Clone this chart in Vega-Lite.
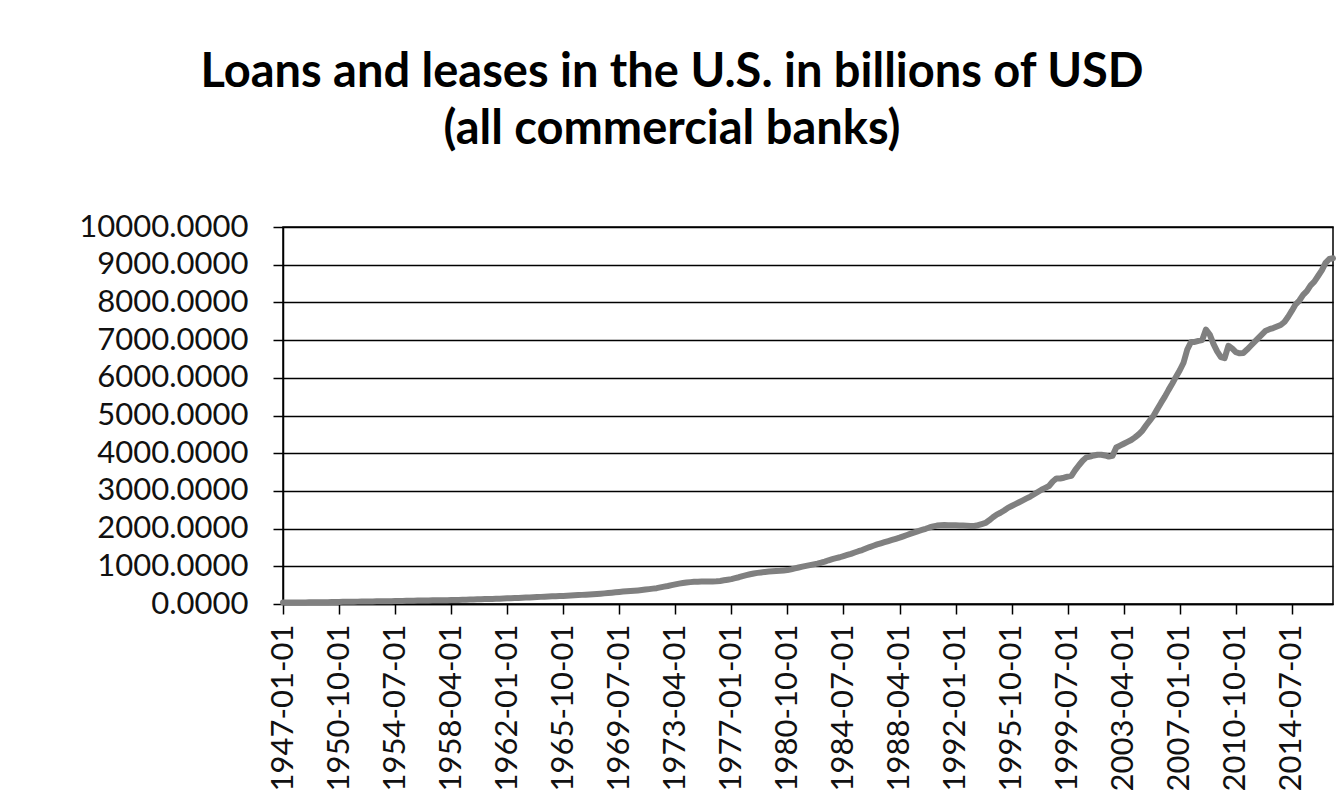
{
  "$schema": "https://vega.github.io/schema/vega-lite/v6.json",
  "width": 1050,
  "height": 377,
  "autosize": {"type": "none"},
  "padding": {"left": 283, "top": 227, "right": 5, "bottom": 199},
  "background": "white",
  "title": {
    "text": ["Loans and leases in the U.S. in billions of USD", "(all commercial banks)"],
    "font": "Lato",
    "fontSize": 47,
    "fontWeight": "bold",
    "color": "#000000",
    "anchor": "middle",
    "frame": "group",
    "dx": -136,
    "lineHeight": 57,
    "offset": 57
  },
  "config": {
    "view": {"stroke": "#000000", "strokeWidth": 1.5},
    "axis": {
      "labelFont": "Lato",
      "labelFontSize": 31,
      "labelColor": "#111111",
      "domainColor": "#000000",
      "domainWidth": 1.5,
      "tickColor": "#000000",
      "tickWidth": 1.5,
      "tickSize": 10,
      "title": null
    }
  },
  "data": {"values": [
{"d":"1947-01-01","v":38},{"d":"1947-04-01","v":39},{"d":"1947-07-01","v":40},{"d":"1947-10-01","v":41},
{"d":"1948-01-01","v":42},{"d":"1948-04-01","v":43},{"d":"1948-07-01","v":43},{"d":"1948-10-01","v":44},
{"d":"1949-01-01","v":44},{"d":"1949-04-01","v":44},{"d":"1949-07-01","v":45},{"d":"1949-10-01","v":46},
{"d":"1950-01-01","v":48},{"d":"1950-04-01","v":50},{"d":"1950-07-01","v":53},{"d":"1950-10-01","v":55},
{"d":"1951-01-01","v":57},{"d":"1951-04-01","v":59},{"d":"1951-07-01","v":61},{"d":"1951-10-01","v":62},
{"d":"1952-01-01","v":63},{"d":"1952-04-01","v":65},{"d":"1952-07-01","v":67},{"d":"1952-10-01","v":68},
{"d":"1953-01-01","v":69},{"d":"1953-04-01","v":70},{"d":"1953-07-01","v":71},{"d":"1953-10-01","v":72},
{"d":"1954-01-01","v":73},{"d":"1954-04-01","v":75},{"d":"1954-07-01","v":77},{"d":"1954-10-01","v":79},
{"d":"1955-01-01","v":81},{"d":"1955-04-01","v":83},{"d":"1955-07-01","v":86},{"d":"1955-10-01","v":88},
{"d":"1956-01-01","v":90},{"d":"1956-04-01","v":92},{"d":"1956-07-01","v":94},{"d":"1956-10-01","v":96},
{"d":"1957-01-01","v":97},{"d":"1957-04-01","v":99},{"d":"1957-07-01","v":100},{"d":"1957-10-01","v":101},
{"d":"1958-01-01","v":102},{"d":"1958-04-01","v":104},{"d":"1958-07-01","v":106},{"d":"1958-10-01","v":109},
{"d":"1959-01-01","v":112},{"d":"1959-04-01","v":115},{"d":"1959-07-01","v":118},{"d":"1959-10-01","v":121},
{"d":"1960-01-01","v":124},{"d":"1960-04-01","v":127},{"d":"1960-07-01","v":130},{"d":"1960-10-01","v":132},
{"d":"1961-01-01","v":134},{"d":"1961-04-01","v":137},{"d":"1961-07-01","v":141},{"d":"1961-10-01","v":145},
{"d":"1962-01-01","v":150},{"d":"1962-04-01","v":154},{"d":"1962-07-01","v":158},{"d":"1962-10-01","v":162},
{"d":"1963-01-01","v":166},{"d":"1963-04-01","v":170},{"d":"1963-07-01","v":175},{"d":"1963-10-01","v":180},
{"d":"1964-01-01","v":184},{"d":"1964-04-01","v":189},{"d":"1964-07-01","v":194},{"d":"1964-10-01","v":199},
{"d":"1965-01-01","v":203},{"d":"1965-04-01","v":207},{"d":"1965-07-01","v":211},{"d":"1965-10-01","v":215},
{"d":"1966-01-01","v":220},{"d":"1966-04-01","v":226},{"d":"1966-07-01","v":232},{"d":"1966-10-01","v":237},
{"d":"1967-01-01","v":242},{"d":"1967-04-01","v":248},{"d":"1967-07-01","v":254},{"d":"1967-10-01","v":260},
{"d":"1968-01-01","v":267},{"d":"1968-04-01","v":274},{"d":"1968-07-01","v":282},{"d":"1968-10-01","v":290},
{"d":"1969-01-01","v":300},{"d":"1969-04-01","v":310},{"d":"1969-07-01","v":320},{"d":"1969-10-01","v":330},
{"d":"1970-01-01","v":338},{"d":"1970-04-01","v":345},{"d":"1970-07-01","v":352},{"d":"1970-10-01","v":360},
{"d":"1971-01-01","v":370},{"d":"1971-04-01","v":382},{"d":"1971-07-01","v":395},{"d":"1971-10-01","v":408},
{"d":"1972-01-01","v":420},{"d":"1972-04-01","v":440},{"d":"1972-07-01","v":460},{"d":"1972-10-01","v":478},
{"d":"1973-01-01","v":500},{"d":"1973-04-01","v":520},{"d":"1973-07-01","v":540},{"d":"1973-10-01","v":555},
{"d":"1974-01-01","v":568},{"d":"1974-04-01","v":580},{"d":"1974-07-01","v":588},{"d":"1974-10-01","v":592},
{"d":"1975-01-01","v":594},{"d":"1975-04-01","v":595},{"d":"1975-07-01","v":597},{"d":"1975-10-01","v":600},
{"d":"1976-01-01","v":602},{"d":"1976-04-01","v":612},{"d":"1976-07-01","v":628},{"d":"1976-10-01","v":645},
{"d":"1977-01-01","v":660},{"d":"1977-04-01","v":685},{"d":"1977-07-01","v":710},{"d":"1977-10-01","v":740},
{"d":"1978-01-01","v":765},{"d":"1978-04-01","v":790},{"d":"1978-07-01","v":810},{"d":"1978-10-01","v":825},
{"d":"1979-01-01","v":838},{"d":"1979-04-01","v":850},{"d":"1979-07-01","v":860},{"d":"1979-10-01","v":868},
{"d":"1980-01-01","v":875},{"d":"1980-04-01","v":880},{"d":"1980-07-01","v":890},{"d":"1980-10-01","v":900},
{"d":"1981-01-01","v":920},{"d":"1981-04-01","v":945},{"d":"1981-07-01","v":968},{"d":"1981-10-01","v":990},
{"d":"1982-01-01","v":1010},{"d":"1982-04-01","v":1030},{"d":"1982-07-01","v":1050},{"d":"1982-10-01","v":1070},
{"d":"1983-01-01","v":1095},{"d":"1983-04-01","v":1125},{"d":"1983-07-01","v":1160},{"d":"1983-10-01","v":1190},
{"d":"1984-01-01","v":1215},{"d":"1984-04-01","v":1240},{"d":"1984-07-01","v":1270},{"d":"1984-10-01","v":1300},
{"d":"1985-01-01","v":1330},{"d":"1985-04-01","v":1365},{"d":"1985-07-01","v":1400},{"d":"1985-10-01","v":1430},
{"d":"1986-01-01","v":1470},{"d":"1986-04-01","v":1510},{"d":"1986-07-01","v":1545},{"d":"1986-10-01","v":1580},
{"d":"1987-01-01","v":1610},{"d":"1987-04-01","v":1640},{"d":"1987-07-01","v":1670},{"d":"1987-10-01","v":1700},
{"d":"1988-01-01","v":1730},{"d":"1988-04-01","v":1760},{"d":"1988-07-01","v":1795},{"d":"1988-10-01","v":1830},
{"d":"1989-01-01","v":1865},{"d":"1989-04-01","v":1900},{"d":"1989-07-01","v":1935},{"d":"1989-10-01","v":1965},
{"d":"1990-01-01","v":1995},{"d":"1990-04-01","v":2030},{"d":"1990-07-01","v":2060},{"d":"1990-10-01","v":2080},
{"d":"1991-01-01","v":2090},{"d":"1991-04-01","v":2095},{"d":"1991-07-01","v":2090},{"d":"1991-10-01","v":2090},
{"d":"1992-01-01","v":2090},{"d":"1992-04-01","v":2085},{"d":"1992-07-01","v":2080},{"d":"1992-10-01","v":2075},
{"d":"1993-01-01","v":2070},{"d":"1993-04-01","v":2070},{"d":"1993-07-01","v":2090},{"d":"1993-10-01","v":2120},
{"d":"1994-01-01","v":2150},{"d":"1994-04-01","v":2220},{"d":"1994-07-01","v":2300},{"d":"1994-10-01","v":2370},
{"d":"1995-01-01","v":2420},{"d":"1995-04-01","v":2480},{"d":"1995-07-01","v":2550},{"d":"1995-10-01","v":2600},
{"d":"1996-01-01","v":2650},{"d":"1996-04-01","v":2700},{"d":"1996-07-01","v":2750},{"d":"1996-10-01","v":2800},
{"d":"1997-01-01","v":2850},{"d":"1997-04-01","v":2910},{"d":"1997-07-01","v":2970},{"d":"1997-10-01","v":3030},
{"d":"1998-01-01","v":3080},{"d":"1998-04-01","v":3130},{"d":"1998-07-01","v":3250},{"d":"1998-10-01","v":3330},
{"d":"1999-01-01","v":3330},{"d":"1999-04-01","v":3350},{"d":"1999-07-01","v":3380},{"d":"1999-10-01","v":3400},
{"d":"2000-01-01","v":3550},{"d":"2000-04-01","v":3680},{"d":"2000-07-01","v":3800},{"d":"2000-10-01","v":3890},
{"d":"2001-01-01","v":3910},{"d":"2001-04-01","v":3940},{"d":"2001-07-01","v":3960},{"d":"2001-10-01","v":3960},
{"d":"2002-01-01","v":3940},{"d":"2002-04-01","v":3910},{"d":"2002-07-01","v":3930},{"d":"2002-10-01","v":4150},
{"d":"2003-01-01","v":4200},{"d":"2003-04-01","v":4250},{"d":"2003-07-01","v":4300},{"d":"2003-10-01","v":4350},
{"d":"2004-01-01","v":4420},{"d":"2004-04-01","v":4500},{"d":"2004-07-01","v":4600},{"d":"2004-10-01","v":4740},
{"d":"2005-01-01","v":4870},{"d":"2005-04-01","v":5000},{"d":"2005-07-01","v":5170},{"d":"2005-10-01","v":5340},
{"d":"2006-01-01","v":5500},{"d":"2006-04-01","v":5680},{"d":"2006-07-01","v":5850},{"d":"2006-10-01","v":6030},
{"d":"2007-01-01","v":6200},{"d":"2007-04-01","v":6400},{"d":"2007-07-01","v":6750},{"d":"2007-10-01","v":6950},
{"d":"2008-01-01","v":6950},{"d":"2008-04-01","v":6980},{"d":"2008-07-01","v":7000},{"d":"2008-10-01","v":7280},
{"d":"2009-01-01","v":7150},{"d":"2009-04-01","v":6900},{"d":"2009-07-01","v":6700},{"d":"2009-10-01","v":6550},
{"d":"2010-01-01","v":6520},{"d":"2010-04-01","v":6850},{"d":"2010-07-01","v":6780},{"d":"2010-10-01","v":6680},
{"d":"2011-01-01","v":6650},{"d":"2011-04-01","v":6660},{"d":"2011-07-01","v":6750},{"d":"2011-10-01","v":6850},
{"d":"2012-01-01","v":6950},{"d":"2012-04-01","v":7050},{"d":"2012-07-01","v":7150},{"d":"2012-10-01","v":7250},
{"d":"2013-01-01","v":7290},{"d":"2013-04-01","v":7320},{"d":"2013-07-01","v":7360},{"d":"2013-10-01","v":7400},
{"d":"2014-01-01","v":7480},{"d":"2014-04-01","v":7620},{"d":"2014-07-01","v":7780},{"d":"2014-10-01","v":7950},
{"d":"2015-01-01","v":8050},{"d":"2015-04-01","v":8200},{"d":"2015-07-01","v":8300},{"d":"2015-10-01","v":8450},
{"d":"2016-01-01","v":8550},{"d":"2016-04-01","v":8700},{"d":"2016-07-01","v":8850},{"d":"2016-10-01","v":9050},
{"d":"2017-01-01","v":9150},{"d":"2017-04-01","v":9170}
  ]},
  "mark": {"type": "line", "color": "#808080", "strokeWidth": 6, "strokeJoin": "round", "strokeCap": "round"},
  "encoding": {
    "x": {
      "field": "d",
      "type": "ordinal",
      "scale": {"type": "point", "padding": 0},
      "axis": {
        "values": ["1947-01-01","1950-10-01","1954-07-01","1958-04-01","1962-01-01","1965-10-01","1969-07-01","1973-04-01","1977-01-01","1980-10-01","1984-07-01","1988-04-01","1992-01-01","1995-10-01","1999-07-01","2003-04-01","2007-01-01","2010-10-01","2014-07-01"],
        "labelAngle": -90,
        "labelPadding": 10,
        "grid": false
      }
    },
    "y": {
      "field": "v",
      "type": "quantitative",
      "scale": {"domain": [0, 10000], "nice": false},
      "axis": {
        "values": [0,1000,2000,3000,4000,5000,6000,7000,8000,9000,10000],
        "format": ".4f",
        "labelPadding": 25,
        "grid": true,
        "gridColor": "#000000",
        "gridWidth": 1.5,
        "gridOpacity": 1
      }
    }
  }
}
